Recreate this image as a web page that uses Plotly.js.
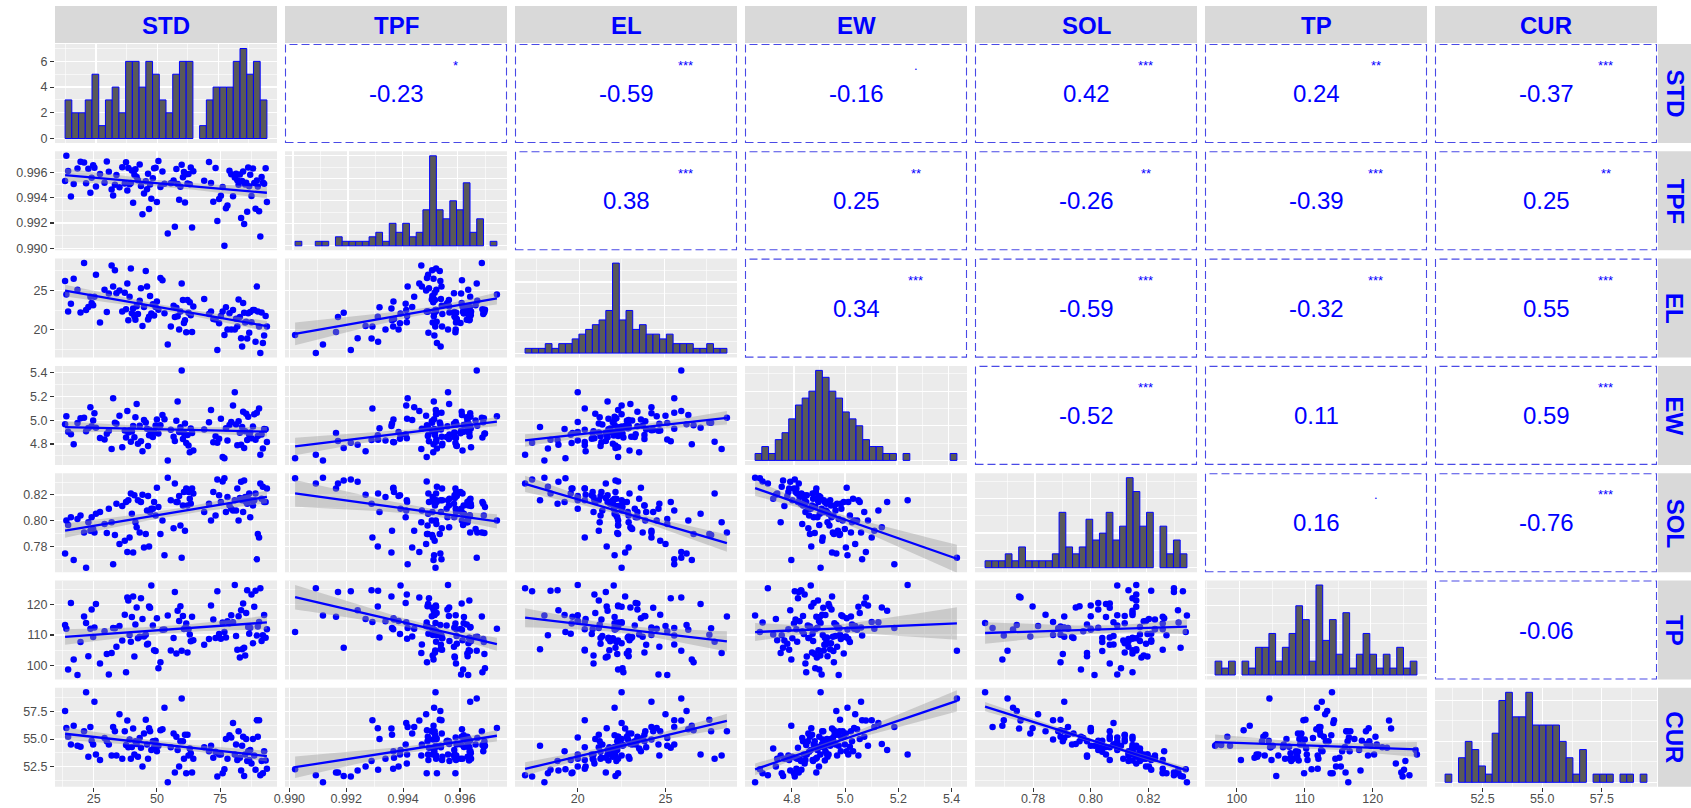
<!DOCTYPE html>
<html><head><meta charset="utf-8">
<script src="https://cdn.plot.ly/plotly-3.0.1.min.js"></script>
<style>html,body{margin:0;padding:0;background:#fff;}#chart{width:1691px;height:808px;}</style>
</head><body><div id="chart"></div>
<script>
// ---------------- data (117 samples) ----------------
const varNames = ['STD','TPF','EL','EW','SOL','TP','CUR'];
const STD = [13.7,14.2,14.9,16.0,17.1,18.6,19.8,21.2,22.0,22.9,23.7,24.2,24.8,25.3,25.9,27.5,29.3,30.2,31.0,32.1,32.7,33.4,34.0,35.2,36.3,37.3,37.8,38.3,38.7,39.2,39.7,40.1,40.6,41.1,41.5,42.0,42.5,43.2,43.7,44.3,44.9,45.6,46.1,46.5,46.9,47.3,47.8,48.4,48.9,49.5,50.0,50.6,51.4,52.2,53.0,54.3,55.5,56.6,57.1,57.7,58.2,58.8,59.3,59.8,60.3,60.7,61.1,61.6,62.1,62.5,63.0,63.4,63.9,64.4,68.7,70.6,71.4,72.3,73.2,73.9,74.6,75.3,76.0,76.7,77.3,77.9,78.7,79.4,80.1,80.8,81.3,81.8,82.3,82.8,83.3,83.7,84.1,84.5,84.9,85.3,85.7,86.1,86.5,86.9,87.4,88.0,88.5,89.0,89.5,89.9,90.4,90.9,91.4,91.9,92.4,93.0,93.5];
const TPF = [.99531,.9973,.99611,.99409,.99507,.99629,.99684,.99677,.99514,.99627,.99439,.99556,.99655,.99636,.99488,.99586,.99517,.99686,.99604,.99464,.99416,.99502,.99579,.99481,.99639,.99511,.99679,.99457,.99633,.99505,.99516,.99614,.99359,.99581,.99624,.99562,.99538,.99661,.99491,.99268,.99432,.99529,.99466,.99589,.99311,.99503,.99391,.99553,.99631,.99635,.99366,.99688,.99484,.99607,.99509,.99118,.99513,.99536,.99171,.99626,.99508,.99384,.99486,.99659,.99561,.99602,.99361,.99584,.99512,.99587,.99506,.99638,.99164,.99609,.99533,.99682,.99515,.99368,.99634,.99216,.99389,.99414,.99483,.9902,.99317,.99338,.99613,.99585,.99411,.99558,.99588,.99537,.99501,.99582,.9924,.99532,.99606,.99191,.99504,.99518,.99289,.99637,.99489,.9958,.99413,.9963,.99516,.99312,.99535,.99487,.99292,.99093,.99563,.99519,.9951,.99632,.99365];
const EL = [26.2,24.5,22.3,23.3,26.5,25.1,22.2,28.5,22.5,22.9,24.2,23.4,23.1,24.2,27.0,20.9,25.1,22.25,24.6,28.2,25.5,27.6,24.65,25.0,22.3,24.7,22.6,25.9,21.2,24.2,27.8,22.1,22.7,21.7,21.25,23.0,22.0,23.7,25.3,20.45,22.9,27.5,25.5,21.3,21.65,24.3,22.05,23.25,21.8,22.9,23.6,22.55,26.6,26.3,22.1,18.1,20.4,23.05,21.6,22.8,21.7,20.0,22.3,25.9,23.8,20.85,21.2,19.65,23.8,22.15,23.5,21.85,19.7,22.95,23.9,22.0,22.3,21.35,21.3,17.4,20.8,21.75,22.3,19.3,22.85,20.0,22.1,20.0,22.5,20.0,21.4,20.4,23.85,21.6,18.9,17.85,23.4,22.15,20.9,21.0,18.85,22.1,19.6,22.25,20.95,22.5,22.5,18.45,25.5,22.3,20.4,17.0,22.2,18.3,19.25,21.75,20.4];
const EW = [4.967,5.034,4.903,4.882,4.798,4.976,5.018,5.022,4.908,4.934,5.110,4.949,4.999,5.060,4.938,4.851,4.839,4.886,4.912,4.758,5.185,4.979,4.970,5.038,4.772,4.914,4.854,5.078,4.898,4.916,4.820,4.905,4.951,4.856,5.026,5.138,4.802,4.954,4.823,4.740,5.003,4.981,4.928,4.783,4.873,4.918,4.871,4.860,4.900,4.956,5.006,4.888,4.958,5.045,5.009,4.662,4.920,4.862,4.826,4.995,5.158,4.902,4.941,5.42,4.842,4.890,4.973,4.808,4.876,4.787,4.730,4.930,4.892,4.745,4.922,4.984,5.086,4.814,4.865,4.811,4.845,5.012,4.690,4.680,4.932,4.829,4.960,4.986,5.125,5.235,4.964,4.790,4.991,4.894,4.794,4.944,5.072,4.767,4.907,5.055,4.834,5.030,4.878,4.896,4.848,4.947,5.050,4.836,5.064,4.868,5.100,4.710,4.880,4.762,4.926,4.924,4.817];
const SOL = [.7743,.8000,.7966,.8026,.7693,.8013,.8040,.7908,.7633,.7987,.7921,.8026,.7935,.7908,.8053,.8066,.7974,.7903,.8092,.7987,.7659,.7887,.8131,.7817,.8113,.7843,.8145,.7756,.8158,.7869,.8210,.8053,.7751,.8197,.7987,.7948,.8158,.7908,.8145,.8202,.7790,.7895,.8079,.8192,.7798,.8066,.8092,.8092,.8145,.8040,.8255,.8105,.7895,.8000,.7730,.8334,.8158,.7940,.8289,.8145,.8145,.8192,.7961,.7711,.8118,.8223,.7921,.8250,.8118,.8223,.8171,.8131,.8250,.8210,.8066,.8131,.8000,.8223,.8040,.8320,.8197,.8145,.8305,.8330,.8066,.8184,.8118,.8092,.8079,.8158,.8079,.8250,.8000,.8176,.8303,.8158,.8066,.8312,.8184,.8145,.8131,.8171,.8210,.8026,.8158,.8118,.8158,.8210,.7698,.7895,.7869,.8289,.8171,.8263,.8145,.8145,.8250];
const TP = [113.3,112.1,98.6,120.6,101.9,96.8,107.7,116.1,114.0,103.0,112.1,118.4,109.3,112.5,120.2,100.6,111.2,103.7,97.0,104.1,112.3,112.2,106.1,113.0,108.2,116.7,97.7,122.4,121.4,110.0,107.8,115.9,122.7,102.9,113.5,119.1,108.9,109.4,122.1,115.3,109.5,110.1,106.9,107.1,119.4,119.0,126.3,113.1,105.0,104.7,115.5,99.0,101.0,111.7,111.8,116.4,104.9,109.0,124.2,103.9,118.0,114.6,119.5,104.8,116.3,112.0,112.3,113.8,104.2,111.9,110.2,107.9,116.0,108.3,106.8,108.7,119.7,115.1,109.0,124.4,110.3,108.8,114.1,111.0,109.2,114.5,113.9,116.5,114.2,126.5,109.7,105.1,116.2,102.6,118.2,105.3,120.4,105.8,103.2,117.3,124.8,112.6,110.4,112.4,123.4,107.3,119.3,124.6,109.8,112.8,114.3,125.4,108.0,109.9,116.6,109.1,111.9];
const CUR = [57.55,56.0,55.2,54.5,56.2,54.4,54.3,55.7,59.25,53.4,56.1,54.85,54.5,58.4,53.6,53.1,55.1,54.8,54.5,53.5,56.1,55.7,53.5,57.25,53.2,55.7,54.45,56.68,54.25,54.95,53.2,54.28,55.95,53.6,54.8,54.55,53.4,55.1,54.2,52.5,55.5,56.75,54.5,53.2,55.98,55.7,54.0,54.8,54.25,54.85,53.9,54.4,55.8,55.9,57.85,51.07,54.25,55.5,51.95,55.2,54.0,52.5,54.8,58.68,54.8,53.2,55.4,51.9,55.4,53.5,54.15,53.7,51.95,53.2,54.25,53.9,54.4,53.3,53.85,51.6,53.6,53.6,51.9,52.25,55.0,53.2,55.35,55.15,56.45,53.6,54.5,53.1,55.7,53.3,52.15,54.4,55.2,51.65,53.6,55.0,53.0,53.9,53.1,54.0,52.78,55.0,53.5,52.2,56.72,55.2,56.70,51.7,53.0,51.9,53.9,53.05,52.3];

// correlation labels (upper triangle, row by row) and significance stars
const corrText  = ['-0.23','-0.59','-0.16','0.42','0.24','-0.37','0.38','0.25','-0.26','-0.39','0.25','0.34','-0.59','-0.32','0.55','-0.52','0.11','0.59','0.16','-0.76','-0.06'];
const corrStars = ['*','***','.','***','**','***','***','**','**','***','**','***','***','***','***','***','','***','.','***',''];

// axis breaks and labels
const stdTicks = [25,50,75],                stdLabels = ['25','50','75'],                  stdMinor = [12.5,37.5,62.5,87.5];
const tpfTicks = [0.990,0.992,0.994,0.996], tpfLabels = ['0.990','0.992','0.994','0.996'], tpfMinor = [0.991,0.993,0.995,0.997];
const elTicks  = [20,25],                   elLabels  = ['20','25'],                       elMinor  = [17.5,22.5,27.5];
const ewTicks  = [4.8,5.0,5.2,5.4],         ewLabels  = ['4.8','5.0','5.2','5.4'],         ewMinor  = [4.7,4.9,5.1,5.3];
const solTicks = [0.78,0.80,0.82],          solLabels = ['0.78','0.80','0.82'],            solMinor = [0.77,0.79,0.81,0.83];
const tpTicks  = [100,110,120],             tpLabels  = ['100','110','120'],               tpMinor  = [95,105,115,125];
const curTicks = [52.5,55.0,57.5],          curLabels = ['52.5','55.0','57.5'],            curMinor = [51.25,53.75,56.25,58.75];

// ---------------- build ----------------
const vars = [STD,TPF,EL,EW,SOL,TP,CUR];
const majors = [stdTicks,tpfTicks,elTicks,ewTicks,solTicks,tpTicks,curTicks];
const labels = [stdLabels,tpfLabels,elLabels,ewLabels,solLabels,tpLabels,curLabels];
const minors = [stdMinor,tpfMinor,elMinor,ewMinor,solMinor,tpMinor,curMinor];

const W = 1691, H = 808;
const PW = 222, PH = 99;
const colLeft = j => 55 + 230*j;
const rowTop  = i => 44 + 107.3*i;
const px = v => v / W, py = v => 1 - v / H;
const FONT = 'Liberation Sans, Arial, Helvetica, sans-serif';
const BLUE = '#0000FF';
const T975 = 1.981;
const NB = 30;

const layout = {
  width: W, height: H, margin: {l:0, r:0, t:0, b:0, pad:0},
  paper_bgcolor: '#FFFFFF', plot_bgcolor: 'rgba(0,0,0,0)',
  showlegend: false, bargap: 0, bargroupgap: 0,
  font: {family: FONT, color: '#4D4D4D'},
  shapes: [], annotations: []
};
const traces = [];

function range5(a){ const lo=Math.min(...a), hi=Math.max(...a), r=hi-lo; return [lo-0.05*r, hi+0.05*r]; }
function bins(a){ const lo=Math.min(...a), hi=Math.max(...a); const w=(hi-lo)/(NB-1); return {start: lo-w/2, size: w, end: lo-w/2+NB*w}; }
function countMax(a, b){ const c=new Array(NB).fill(0); a.forEach(v=>{ let k=Math.floor((v-b.start)/b.size); if(k<0)k=0; if(k>=NB)k=NB-1; c[k]++; }); return Math.max(...c); }
function countBreaks(M){
  const cands=[1,2,2.5,5,10,20,25,50]; const step=cands.find(c=>c>=M/4) || 50;
  const maj=[], mnr=[];
  for(let v=0; v<=M*1.05+1e-9; v+=step) maj.push(+v.toFixed(6));
  for(let v=step/2; v<=M*1.05+1e-9; v+=step) mnr.push(+v.toFixed(6));
  return {maj, mnr};
}
function fit(x, y){
  const n=x.length; let mx=0,my=0; for(let t=0;t<n;t++){mx+=x[t];my+=y[t];} mx/=n; my/=n;
  let sxx=0,sxy=0; for(let t=0;t<n;t++){sxx+=(x[t]-mx)**2; sxy+=(x[t]-mx)*(y[t]-my);}
  const b=sxy/sxx, a=my-b*mx; let sse=0; for(let t=0;t<n;t++){sse+=(y[t]-a-b*x[t])**2;}
  const s=Math.sqrt(sse/(n-2)); const lo=Math.min(...x), hi=Math.max(...x);
  const xs=[],yh=[],up=[],dn=[];
  for(let t=0;t<=80;t++){ const xv=lo+(hi-lo)*t/80, yv=a+b*xv, se=s*Math.sqrt(1/n+(xv-mx)**2/sxx);
    xs.push(xv); yh.push(yv); up.push(yv+T975*se); dn.push(yv-T975*se); }
  return {xs,yh,up,dn};
}
function axis(domain, anchor, rng, maj, lab, mnr, show, isX){
  return {domain, anchor, range: rng, autorange: false, fixedrange: true,
    showgrid: true, gridcolor: '#FFFFFF', gridwidth: 1.2, zeroline: false, showline: false,
    tickmode: 'array', tickvals: maj, ticktext: lab,
    minor: {tickmode: 'array', tickvals: mnr, showgrid: true, gridcolor: '#FFFFFF', gridwidth: 0.6, ticks: ''},
    showticklabels: !!show, ticks: show ? 'outside' : '', ticklen: 4, tickwidth: 1.1, tickcolor: '#333333',
    ticklabelstandoff: isX ? -4 : 0,
    tickfont: {family: FONT, size: 12.5, color: '#4D4D4D'}};
}

// strips
for (let j=0;j<7;j++){
  layout.shapes.push({type:'rect', xref:'paper', yref:'paper', layer:'below',
    x0:px(colLeft(j)), x1:px(colLeft(j)+PW), y0:py(43), y1:py(6), fillcolor:'#D9D9D9', line:{width:0}});
  layout.annotations.push({xref:'paper', yref:'paper', x:px(colLeft(j)+PW/2), y:py(25), text:'<b>'+varNames[j]+'</b>',
    showarrow:false, xanchor:'center', yanchor:'middle', font:{family:FONT, size:24, color:BLUE}});
}
for (let i=0;i<7;i++){
  layout.shapes.push({type:'rect', xref:'paper', yref:'paper', layer:'below',
    x0:px(1658), x1:px(1691), y0:py(rowTop(i)+PH), y1:py(rowTop(i)), fillcolor:'#D9D9D9', line:{width:0}});
  layout.annotations.push({xref:'paper', yref:'paper', x:px(1675), y:py(rowTop(i)+PH/2), text:'<b>'+varNames[i]+'</b>',
    showarrow:false, textangle:90, xanchor:'center', yanchor:'middle', font:{family:FONT, size:24, color:BLUE}});
}

let ci = 0;
for (let i=0;i<7;i++){
  for (let j=0;j<7;j++){
    const L = colLeft(j), T = rowTop(i);
    if (j > i){
      layout.shapes.push({type:'rect', xref:'paper', yref:'paper', layer:'below',
        x0:px(L+0.5), x1:px(L+PW-0.5), y0:py(T+PH-0.5), y1:py(T+0.5), fillcolor:'#FFFFFF',
        line:{color:'#4A4AE6', width:1.1, dash:'8px,4px'}});
      layout.annotations.push({xref:'paper', yref:'paper', x:px(L+PW/2), y:py(T+PH*0.5), text:corrText[ci],
        showarrow:false, xanchor:'center', yanchor:'middle', font:{family:FONT, size:24, color:BLUE}});
      if (corrStars[ci]) layout.annotations.push({xref:'paper', yref:'paper', x:px(L+PW*0.77), y:py(T+PH*0.22), text:corrStars[ci],
        showarrow:false, xanchor:'center', yanchor:'middle', font:{family:FONT, size:13, color:BLUE}});
      ci++;
      continue;
    }
    const idx = i*7+j+1, sx = idx===1?'':String(idx);
    const xid = 'x'+sx, yid = 'y'+sx;
    layout.shapes.push({type:'rect', xref:'paper', yref:'paper', layer:'below',
      x0:px(L), x1:px(L+PW), y0:py(T+PH), y1:py(T), fillcolor:'#EBEBEB', line:{width:0}});
    const xd=[px(L),px(L+PW)], yd=[py(T+PH),py(T)];
    if (i === j){
      const v = vars[i], b = bins(v), M = countMax(v, b);
      const span = b.end - b.start;
      const xr = [b.start-0.05*span, b.end+0.05*span];
      const cb = countBreaks(M);
      layout['xaxis'+sx] = axis(xd, yid, xr, majors[i], labels[i], minors[i], i===6, true);
      layout['yaxis'+sx] = axis(yd, xid, [-0.05*M, 1.05*M], cb.maj, cb.maj.map(String), cb.mnr, j===0, false);
      traces.push({type:'histogram', x:v, xaxis:xid, yaxis:yid, xbins:{start:b.start, end:b.end, size:b.size},
        marker:{color:'#595959', line:{color:BLUE, width:1}}, hoverinfo:'skip'});
    } else {
      const xv = vars[j], yv = vars[i];
      layout['xaxis'+sx] = axis(xd, yid, range5(xv), majors[j], labels[j], minors[j], i===6, true);
      layout['yaxis'+sx] = axis(yd, xid, range5(yv), majors[i], labels[i], minors[i], j===0, false);
      traces.push({type:'scatter', mode:'markers', x:xv, y:yv, xaxis:xid, yaxis:yid,
        marker:{color:BLUE, size:6.5, line:{width:0}}, hoverinfo:'skip'});
      const f = fit(xv, yv);
      traces.push({type:'scatter', mode:'lines', x:f.xs.concat(f.xs.slice().reverse()), y:f.up.concat(f.dn.slice().reverse()),
        xaxis:xid, yaxis:yid, fill:'toself', fillcolor:'rgba(153,153,153,0.4)', line:{width:0}, hoverinfo:'skip'});
      traces.push({type:'scatter', mode:'lines', x:f.xs, y:f.yh, xaxis:xid, yaxis:yid,
        line:{color:BLUE, width:2.3}, hoverinfo:'skip'});
    }
  }
}

Plotly.newPlot('chart', traces, layout, {staticPlot:true, displayModeBar:false});
</script>
</body></html>
